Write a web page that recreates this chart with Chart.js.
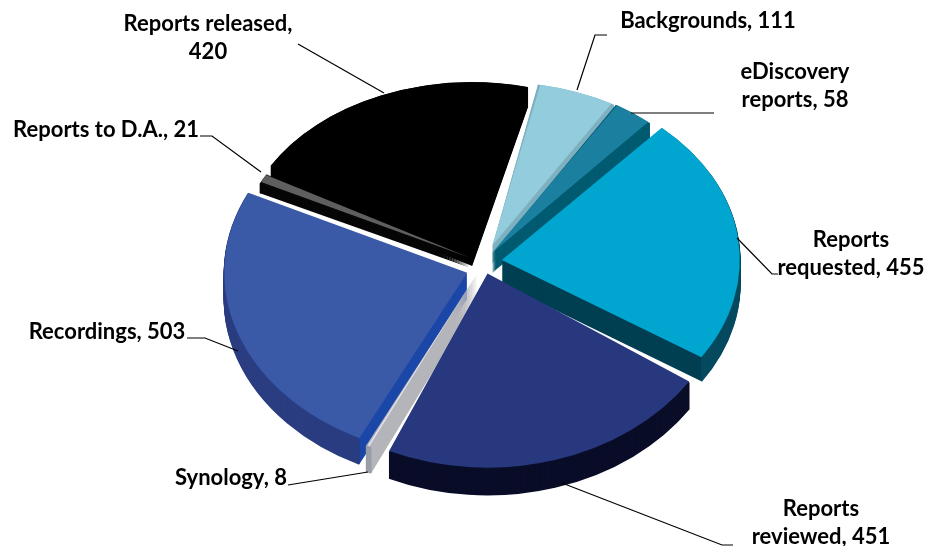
<!DOCTYPE html>
<html><head><meta charset="utf-8">
<script src="https://cdn.jsdelivr.net/npm/chart.js@4/dist/chart.umd.min.js"></script>
<style>html,body{margin:0;padding:0;background:#fff}#w{width:928px;height:546px;position:relative}</style>
</head><body><div id="w"><canvas id="c"></canvas></div>
<script>
const categories = ["Backgrounds","eDiscovery reports","Reports requested","Reports reviewed","Synology","Recordings","Reports to D.A.","Reports released"];
const values = [111,58,455,451,8,503,21,420];
const topColors = ["#93cddd","#1b80a0","#00a6cf","#27387f","#e6e8f2","#3a5aa8","#5f5f5f","#000000"];
const innerWalls = ["#7fb0c0","#005a70","#003f52","#0a0d28","#b4b5ba","#1b47a8","#060606","#000000"];
const outerWalls = ["#7fb0c0","#005a70","#064a60","#0a0d28","#9a9da6","#2b3d80","#060606","#000000"];
const offsets = [110,64,76,60,60,68,64,100];
const tilts = [0.69,0.73,0.75,0.80,0.80,0.76,0.72,0.71];
const depths = [18,20,24,27,26,26,10,20];
const turns = [-0.5,0,0.7,1.5,3.5,2.5,3,2.5];
const reach = [1,1,1,1.02,1.02,1.02,0.98,0.97];
const shiftY = [0,0,0,0,0,6,0,0];
const labelLines = [
  ["Backgrounds, 111"],["eDiscovery","reports, 58"],["Reports","requested, 455"],["Reports","reviewed, 451"],
  ["Synology, 8"],["Recordings, 503"],["Reports to D.A., 21"],["Reports released,","420"]];
const labelAnchors = [[708,28],[795,79],[851,247],[821,516],[231,485],[107,339],[106,137],[208,31]];
const leaders = [
  [[607,35],[595,35],[577,90]],
  [[714,113],[631,113]],
  [[778,274],[772,274],[737,238]],
  [[733,545],[722,545],[562,483]],
  [[288,485],[368,472]],
  [[187,338],[205,338],[238,351]],
  [[200,136],[212,136],[261,172]],
  [[298,44],[384,93]]
];
const CX = 483, CY = 262, RADIUS = 238, ROT = 11.5;

function radiusExtra(arc){
  const off=(arc.options.offset||0)/4;
  return off*(1-Math.sin(Math.min(Math.PI,arc.circumference||0)));
}
function apexOf(arc){
  const off=(arc.options.offset||0)/4, mid=(arc.startAngle+arc.endAngle)/2;
  return {x:arc.x+Math.cos(mid)*off, y:arc.y+Math.sin(mid)*off};
}
function tiltAt(ctx, arc, i){
  const s=RADIUS/(arc.outerRadius+radiusExtra(arc)), a=apexOf(arc);
  ctx.translate(0, shiftY[i]);
  ctx.translate(arc.x, arc.y);
  ctx.scale(s, s*tilts[i]);
  ctx.translate(-arc.x, -arc.y);
  ctx.translate(a.x, a.y);
  ctx.rotate(turns[i]*Math.PI/180);
  ctx.scale(reach[i], reach[i]);
  ctx.translate(-a.x, -a.y);
}
const pie3d = {
  id:'pie3d',
  beforeDatasetsDraw(chart){
    const ctx = chart.ctx;
    const arcs = chart.getDatasetMeta(0).data;
    const order = arcs.map((a,i)=>i).sort((a,b)=>{
      const ya=Math.sin((arcs[a].startAngle+arcs[a].endAngle)/2), yb=Math.sin((arcs[b].startAngle+arcs[b].endAngle)/2);
      return ya-yb;
    });
    order.forEach(i=>{
      const arc=arcs[i];
      const {x,y}=apexOf(arc), r=arc.outerRadius+radiusExtra(arc);
      for(let d=depths[i];d>=1;d--){
        ctx.save();
        ctx.translate(0,d);
        tiltAt(ctx,arc,i);
        ctx.beginPath();
        ctx.moveTo(x,y);
        ctx.arc(x,y,r,arc.startAngle,arc.endAngle);
        ctx.closePath();
        ctx.fillStyle=innerWalls[i];
        ctx.fill();
        ctx.beginPath();
        ctx.arc(x,y,r,arc.startAngle,arc.endAngle);
        ctx.restore();
        ctx.strokeStyle=outerWalls[i];
        ctx.lineWidth=1.6;
        ctx.stroke();
      }
    });
    arcs.forEach((arc,i)=>{
      ctx.save();
      tiltAt(ctx,arc,i);
      arc.draw(ctx);
      ctx.restore();
    });
    return false;
  },
  afterDraw(chart){
    const ctx = chart.ctx;
    ctx.save();
    ctx.strokeStyle='#000';ctx.lineWidth=1.2;
    leaders.forEach(p=>{
      ctx.beginPath();
      p.forEach((q,k)=>k?ctx.lineTo(q[0],q[1]):ctx.moveTo(q[0],q[1]));
      ctx.stroke();
    });
    ctx.fillStyle='#000';
    ctx.font='bold 22px Lato, "Open Sans", sans-serif';
    ctx.textAlign='center';ctx.textBaseline='alphabetic';
    labelLines.forEach((lines,i)=>{
      lines.forEach((t,k)=>ctx.fillText(t,labelAnchors[i][0],labelAnchors[i][1]+k*28));
    });
    ctx.restore();
  }
};
new Chart(document.getElementById('c'),{
  type:'pie',
  data:{labels:categories,datasets:[{data:values,backgroundColor:topColors,borderWidth:0,offset:offsets}]},
  options:{
    responsive:true,maintainAspectRatio:false,animation:false,
    rotation:ROT,radius:RADIUS,
    layout:{padding:{left:Math.max(0,2*CX-928),right:Math.max(0,928-2*CX),top:Math.max(0,2*CY-546),bottom:Math.max(0,546-2*CY)}},
    plugins:{legend:{display:false},tooltip:{enabled:false}}
  },
  plugins:[pie3d]
});
</script></body></html>
